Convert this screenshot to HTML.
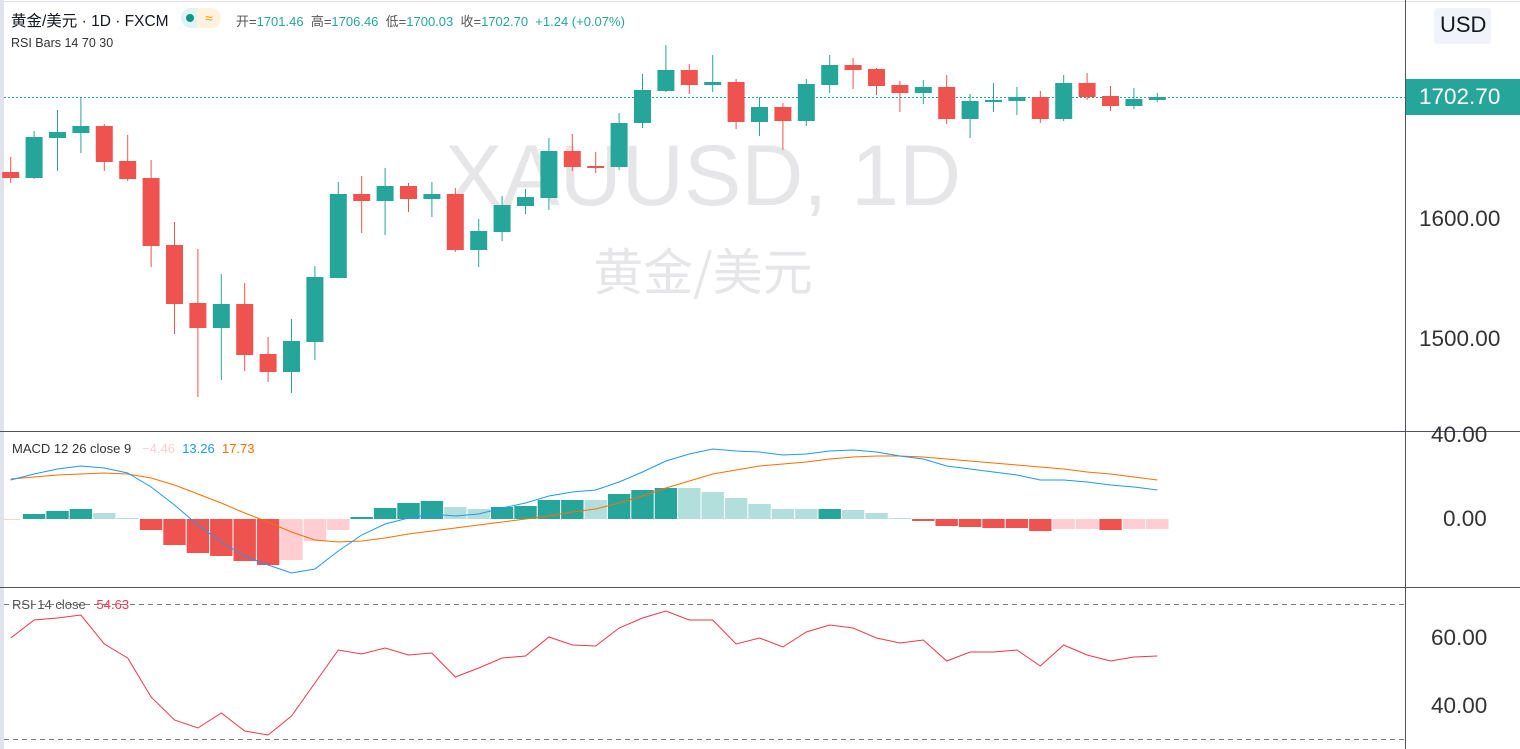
<!DOCTYPE html>
<html><head><meta charset="utf-8"><style>
html,body{margin:0;padding:0;background:#fff;width:1520px;height:749px;overflow:hidden;font-family:"Liberation Sans","Noto Sans CJK SC",sans-serif}
svg{position:absolute;left:0;top:0}
.t{position:absolute;white-space:nowrap}
.ax{font-size:22.5px;color:#333}
</style></head><body>
<svg id="s" width="1520" height="749" xmlns="http://www.w3.org/2000/svg">
<rect x="0" y="0" width="4" height="749" fill="#e0e3eb"/>
<line x1="0" y1="1.5" x2="1520" y2="1.5" stroke="#e0e3eb"/>
<text x="703" y="205" font-size="86" fill="#e6e6e9" text-anchor="middle" font-family="Liberation Sans, sans-serif">XAUUSD, 1D</text>
<text x="703" y="290" font-size="50" fill="#e6e6e9" text-anchor="middle" font-family="Noto Sans CJK SC, sans-serif">黄金/美元</text>
<line x1="4" y1="97.5" x2="1405" y2="97.5" stroke="#26a69a" stroke-dasharray="2,2"/>
<line x1="4" y1="604.5" x2="1405" y2="604.5" stroke="#787b86" stroke-dasharray="5,4"/>
<line x1="4" y1="739.5" x2="1405" y2="739.5" stroke="#787b86" stroke-dasharray="5,4"/>
<g id="g"></g>
<line x1="0" y1="431.5" x2="1520" y2="431.5" stroke="#50535e"/>
<line x1="0" y1="587.5" x2="1520" y2="587.5" stroke="#50535e"/>
<line x1="1405.5" y1="0" x2="1405.5" y2="749" stroke="#50535e"/>
<rect x="1434" y="8" width="57" height="36" rx="3" fill="#f0f3fa"/>
<rect x="1406" y="79" width="114" height="36" fill="#26a69a"/>
</svg>
<div class="t" style="left:11px;top:9px;font-size:15.5px;color:#131722">黄金/美元 · 1D · FXCM</div>
<div class="t" style="left:181px;top:8px;width:32px;height:20px;border-radius:10px;background:#e0f2f1"></div>
<div class="t" style="left:186px;top:14px;width:8px;height:8px;border-radius:4px;background:#089981"></div>
<div class="t" style="left:197px;top:8px;width:24px;height:20px;border-radius:0 10px 10px 0;background:#fff3e0;color:#ff9800;font-size:14px;line-height:20px;text-align:center">≈</div>
<div class="t" style="left:236px;top:11px;font-size:13px;color:#555">开=<span style="color:#26a69a">1701.46</span>&nbsp; 高=<span style="color:#26a69a">1706.46</span>&nbsp; 低=<span style="color:#26a69a">1700.03</span>&nbsp; 收=<span style="color:#26a69a">1702.70&nbsp; +1.24 (+0.07%)</span></div>
<div class="t" style="left:11px;top:36px;font-size:12.5px;color:#333">RSI Bars 14 70 30</div>
<div class="t" style="left:12px;top:441px;font-size:13px;color:#333">MACD 12 26 close 9&nbsp;&nbsp; <span style="color:#ffcdd2">−4.46</span>&nbsp; <span style="color:#2196f3">13.26</span>&nbsp; <span style="color:#ff6d00">17.73</span></div>
<div class="t" style="left:12px;top:597px;font-size:13px;color:#555">RSI 14 close&nbsp;&nbsp; <span style="color:#f23645">54.63</span></div>
<div class="t" style="left:1440px;top:12px;font-size:22px;color:#131722">USD</div>
<div class="t" style="left:1419px;top:84px;font-size:22.5px;color:#fff">1702.70</div>
<div class="t ax" style="left:1419px;top:206px">1600.00</div>
<div class="t ax" style="left:1419px;top:326px">1500.00</div>
<div class="t ax" style="left:1431px;top:422px">40.00</div>
<div class="t ax" style="left:1443px;top:506px">0.00</div>
<div class="t ax" style="left:1431px;top:625px">60.00</div>
<div class="t ax" style="left:1431px;top:693px">40.00</div>
<script>
var G='#26a69a',R='#ef5350';
var c=[[172,178,157,183,0],[137,178,131,179,1],[132,138,110,171,1],[126,133,97,153,1],[126,162,124,171,0],[161,179,135,181,0],[178,246,160,267,0],[245,304,222,334,0],[303,328,249,397,0],[304,328,274,380,1],[304,355,283,371,0],[354,372,337,382,0],[341,372,319,393,1],[277,342,266,360,1],[194,278,182,278,1],[194,201,176,233,0],[186,201,168,235,1],[186,199,183,212,0],[194,199,182,217,1],[194,250,188,252,0],[231,250,219,267,1],[205,232,196,241,1],[197,206,189,214,1],[151,198,138,210,1],[151,167,134,171,0],[166,168,152,173,0],[123,167,113,170,1],[90,123,74,128,1],[70,91,45,92,1],[70,85,64,94,0],[82,85,55,92,1],[82,122,79,129,0],[107,122,97,136,1],[107,121,103,150,0],[84,121,79,126,1],[65,85,55,93,1],[65,70,58,89,0],[69,86,68,95,0],[85,93,81,112,0],[87,93,80,104,1],[87,119,75,124,0],[101,119,94,138,1],[100,102,83,112,1],[97,101,87,115,1],[97,119,91,123,0],[83,119,75,121,1],[83,97,73,100,0],[96,106,86,111,0],[99,106,88,109,1],[97,100,93,102,1]];
var h=[[-1,'#ffcdd2'],[5,G],[8,G],[10,G],[6,'#b2dfdb'],[1,'#b2dfdb'],[-11,R],[-26,R],[-34,R],[-37,R],[-42,R],[-46,R],[-41,'#ffcdd2'],[-22,'#ffcdd2'],[-11,'#ffcdd2'],[2,G],[11,G],[16,G],[18,G],[12,'#b2dfdb'],[10,'#b2dfdb'],[12,G],[13,G],[19,G],[19,G],[19,'#b2dfdb'],[25,G],[29,G],[31,G],[31,'#b2dfdb'],[27,'#b2dfdb'],[21,'#b2dfdb'],[15,'#b2dfdb'],[10,'#b2dfdb'],[10,'#b2dfdb'],[10,G],[9,'#b2dfdb'],[6,'#b2dfdb'],[1,'#b2dfdb'],[-2,R],[-7,R],[-8,R],[-9,R],[-9,R],[-12,R],[-10,'#ffcdd2'],[-10,'#ffcdd2'],[-11,R],[-10,'#ffcdd2'],[-10,'#ffcdd2']];
var m=[480,474,469,466,468,473,487,505,525,542,556,565,573,569,551,535,524,518,514,516,514,508,503,496,492,490,482,472,461,454,449,451,452,455,454,451,450,452,456,459,466,469,472,475,480,480,482,485,487,490];
var sg=[479,477,475,474,473,474,478,485,494,503,513,522,532,540,542,541,538,534,531,528,525,522,519,516,512,509,503,496,488,481,474,470,466,464,462,459,457,456,456,457,459,461,463,465,467,469,472,474,477,480];
var r=[638,620,618,615,644,658,697,720,728,713,731,735,716,683,650,654,648,655,653,677,668,658,656,637,645,646,628,618,611,620,620,644,638,647,632,625,628,638,643,640,661,652,652,650,666,645,655,661,657,656];
var X=function(i){return 10.7+i*23.4};
var s='';
for(var i=0;i<50;i++){var x=X(i),col=c[i][4]?G:R;
s+='<rect x="'+(x-0.5)+'" y="'+c[i][2]+'" width="1" height="'+(c[i][3]-c[i][2])+'" fill="'+col+'"/>';
s+='<rect x="'+(x-8.5)+'" y="'+c[i][0]+'" width="17" height="'+Math.max(2,c[i][1]-c[i][0])+'" fill="'+col+'"/>';
var v=h[i][0],y0=519;
var bx=(i==0)?3:x-11.2;var bw=(i==0)?17:22.4;
if(v>=0)s+='<rect x="'+bx+'" y="'+(y0-v)+'" width="'+bw+'" height="'+Math.max(1,v)+'" fill="'+h[i][1]+'"/>';
else s+='<rect x="'+bx+'" y="'+y0+'" width="'+bw+'" height="'+(-v)+'" fill="'+h[i][1]+'"/>';}
function pl(a,col){var p=a.map(function(y,i){return X(i).toFixed(1)+','+y}).join(' ');return '<polyline points="'+p+'" fill="none" stroke="'+col+'" stroke-width="1"/>';}
s+=pl(sg,'#ff6d00')+pl(m,'#2196f3')+pl(r,'#f23645');
document.getElementById('g').innerHTML=s;
</script>
</body></html>
